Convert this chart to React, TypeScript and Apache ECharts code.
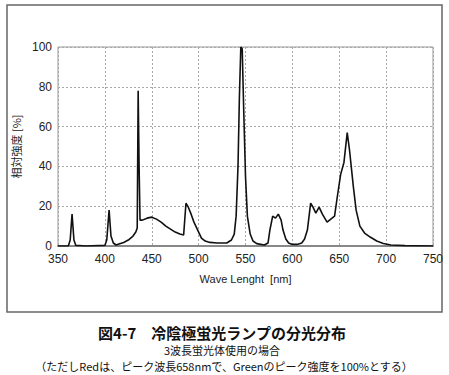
import React, { useEffect, useRef } from "react";
import * as echarts from "echarts";

const wavelengths = [350, 361, 363, 365, 367, 369, 380, 400, 402, 404.5, 406.5, 409, 412, 415, 420, 425, 430, 433, 434.5, 435.5, 436.5, 437.5, 440, 445, 450, 455, 460, 465, 470, 475, 480, 484, 486.5, 489, 492, 495, 500, 503, 507, 512, 520, 530, 535, 538, 540, 542, 543.5, 545, 546.5, 548, 550, 552, 555, 558, 562, 570, 574, 576, 579, 582, 585, 588, 590, 593, 596, 600, 605, 610, 613, 616, 619.5, 622, 625, 628.5, 632, 637, 641, 645, 648, 651.5, 655, 658.5, 661, 665, 668, 672, 677, 683, 690, 697, 705, 720, 750];
const intensity = [0, 0, 3, 16, 3, 0.3, 0, 0.3, 3, 18, 5, 1.5, 0.5, 1, 1.8, 3, 5, 7, 9, 78, 40, 13, 13, 14, 14.5, 13.5, 12, 10, 8.5, 7, 6, 5.5, 21.5, 19.5, 16, 12, 7, 4, 2.5, 1.8, 1.5, 1.5, 3, 6, 15, 40, 75, 100, 99, 70, 35, 15, 6, 2.5, 1.2, 0.5, 1.5, 8, 15, 14, 16, 13, 8, 3.5, 1.5, 0.8, 0.8, 1.5, 3.5, 8, 21.5, 19.5, 16.5, 19.5, 16, 12, 13.5, 15, 25, 36, 42, 57, 48, 30, 18, 10, 6.5, 4.5, 2.5, 1.3, 0.5, 0.2, 0];

const xTicks = [350, 750, 50];
const yTicks = [0, 100, 20];
const xAxisTitle = "Wave Lenght  [nm]";
const yAxisTitle = "相対強度 [%]";
const captionLines = [
  "図4-7　冷陰極蛍光ランプの分光分布",
  "3波長蛍光体使用の場合",
  "（ただしRedは、ピーク波長658nmで、Greenのピーク強度を100%とする）",
];

export default function App() {
  const ref = useRef<HTMLDivElement>(null);
  useEffect(() => {
    if (!ref.current) return;
    const chart = echarts.init(ref.current, null, { renderer: "svg" });
    const font = "Arial, 'Liberation Sans', 'Noto Sans CJK JP', sans-serif";
    const cjk = "'Noto Sans CJK JP', sans-serif";
    chart.setOption({
      animation: false,
      backgroundColor: "#fff",
      grid: {
        left: 58,
        right: 16,
        top: 47,
        bottom: 129,
        show: true,
        borderColor: "#999",
        borderWidth: 1,
      },
      xAxis: {
        type: "value",
        min: xTicks[0],
        max: xTicks[1],
        interval: xTicks[2],
        name: xAxisTitle,
        nameLocation: "middle",
        nameGap: 27,
        nameTextStyle: { color: "#222", fontSize: 11, fontFamily: font },
        axisLine: { show: true, lineStyle: { color: "#888", width: 2 } },
        axisTick: { show: false },
        axisLabel: { color: "#222", fontSize: 12, fontFamily: font, margin: 7 },
        splitLine: { show: true, lineStyle: { color: "#a8a8a8", type: [2, 2], width: 1 } },
      },
      yAxis: {
        type: "value",
        min: yTicks[0],
        max: yTicks[1],
        interval: yTicks[2],
        name: yAxisTitle,
        nameLocation: "middle",
        nameGap: 30,
        nameTextStyle: { color: "#222", fontSize: 11, fontFamily: cjk },
        axisLine: { show: false },
        axisTick: { show: false },
        axisLabel: { color: "#222", fontSize: 12, fontFamily: font, margin: 6 },
        splitLine: { show: true, lineStyle: { color: "#a8a8a8", type: [2, 2], width: 1 } },
      },
      series: [
        {
          type: "line",
          data: wavelengths.map((w, i) => [w, intensity[i]]),
          showSymbol: false,
          symbol: "none",
          lineStyle: { color: "#111", width: 1.6 },
          z: 5,
        },
      ],
      graphic: [
        {
          type: "rect",
          shape: { x: 7, y: 5, width: 435, height: 307 },
          style: { fill: "none", stroke: "#666", lineWidth: 1.5 },
          silent: true,
        },
        {
          type: "text",
          x: 222,
          y: 332,
          style: {
            text: captionLines[0],
            fill: "#111",
            fontSize: 15,
            fontWeight: "bold",
            fontFamily: cjk,
            align: "center",
            verticalAlign: "middle",
          },
        },
        {
          type: "text",
          x: 222,
          y: 350,
          style: {
            text: captionLines[1],
            fill: "#111",
            fontSize: 11,
            fontFamily: cjk,
            align: "center",
            verticalAlign: "middle",
          },
        },
        {
          type: "text",
          x: 224,
          y: 366,
          style: {
            text: captionLines[2],
            fill: "#111",
            fontSize: 11,
            fontFamily: cjk,
            align: "center",
            verticalAlign: "middle",
          },
        },
      ],
    });
    return () => chart.dispose();
  }, []);
  return (
    <div
      ref={ref}
      style={{ position: "fixed", left: 0, top: 0, width: 449, height: 375, background: "#fff" }}
    />
  );
}
